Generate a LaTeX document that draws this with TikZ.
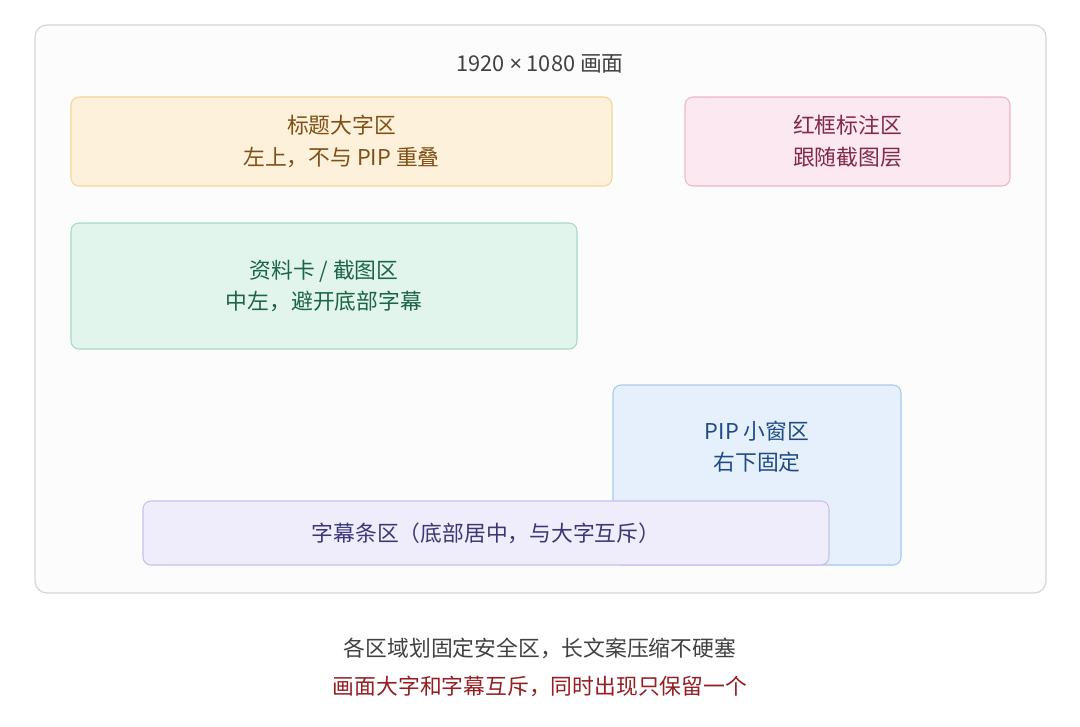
\documentclass[tikz,border=0pt]{standalone}
\usepackage{fontspec}
\setmainfont{Noto Sans CJK SC}
\newfontfamily\latinsans{Noto Sans}
\usetikzlibrary{positioning}
\usepackage{xcolor}
\definecolor{frameFill}{RGB}{252,252,252}
\definecolor{frameLine}{RGB}{214,214,214}
\definecolor{titleBox}{RGB}{253,241,220}
\definecolor{titleLine}{RGB}{245,214,150}
\definecolor{titleInk}{RGB}{128,80,20}
\definecolor{markBox}{RGB}{252,232,240}
\definecolor{markLine}{RGB}{240,182,202}
\definecolor{markInk}{RGB}{130,40,75}
\definecolor{cardBox}{RGB}{226,245,237}
\definecolor{cardLine}{RGB}{166,218,196}
\definecolor{cardInk}{RGB}{28,100,70}
\definecolor{pipBox}{RGB}{230,240,252}
\definecolor{pipLine}{RGB}{166,202,236}
\definecolor{pipInk}{RGB}{30,75,135}
\definecolor{subBox}{RGB}{239,236,251}
\definecolor{subLine}{RGB}{200,192,236}
\definecolor{subInk}{RGB}{60,56,120}
\definecolor{noteInk}{RGB}{65,65,65}
\definecolor{warnInk}{RGB}{150,30,35}

\begin{document}
\begin{tikzpicture}[
    zone/.style={rectangle, draw, rounded corners=0.16cm, line width=0.6pt, align=center, font=\fontsize{12.4}{18}\selectfont},
    zonetext/.style={align=center, font=\fontsize{12.4}{18}\selectfont},
    note/.style={font=\fontsize{12.4}{18}\selectfont}
]
\useasboundingbox (0,0) rectangle (21.6,-14.52);
\fill[white] (0,0) rectangle (21.6,-14.52);

\node[rectangle, draw=frameLine, fill=frameFill, rounded corners=0.24cm, line width=0.7pt, minimum width=20.22cm, minimum height=11.36cm] (frame) at (10.81,-6.18) {};
\node[note, text=noteInk] (size) at (10.8,-1.28) {1920 {\latinsans×} 1080 画面};

\node[zone, draw=titleLine, fill=titleBox, text=titleInk, minimum width=10.82cm, minimum height=1.78cm] (title) at (6.83,-2.83) {标题大字区\\左上，不与 PIP 重叠};
\node[zone, draw=markLine, fill=markBox, text=markInk, minimum width=6.5cm, minimum height=1.78cm] (mark) at (16.95,-2.83) {红框标注区\\跟随截图层};
\node[zone, draw=cardLine, fill=cardBox, text=cardInk, minimum width=10.12cm, minimum height=2.52cm] (card) at (6.48,-5.72) {资料卡 / 截图区\\中左，避开底部字幕};

\node[zone, draw=pipLine, fill=pipBox, minimum width=5.76cm, minimum height=3.6cm] (pip) at (15.14,-9.5) {};
\node[zonetext, text=pipInk, below=0.6cm of pip.north] (pipLabel) {PIP 小窗区\\右下固定};

\node[zone, draw=subLine, fill=subBox, text=subInk, minimum width=13.72cm, minimum height=1.28cm] (sub) at (9.72,-10.66) {字幕条区（底部居中，与大字互斥）};

\node[note, text=noteInk] (rule) at (10.8,-12.96) {各区域划固定安全区，长文案压缩不硬塞};
\node[note, text=warnInk] (warn) at (10.8,-13.72) {画面大字和字幕互斥，同时出现只保留一个};
\end{tikzpicture}
\end{document}
